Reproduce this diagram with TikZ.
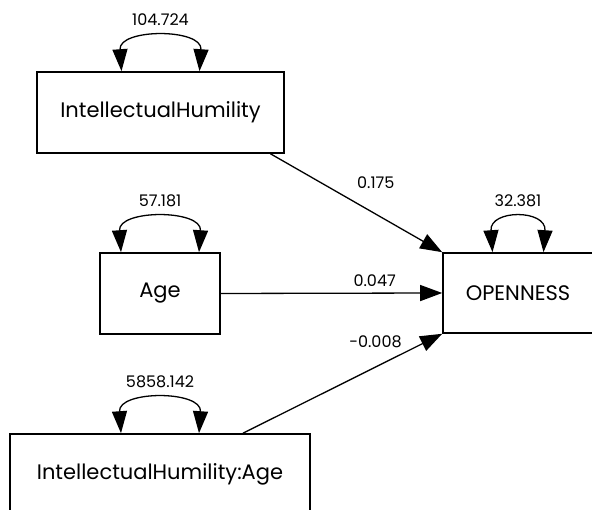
\documentclass[tikz,border=0pt]{standalone}
\usepackage{fontspec}
\setmainfont{Poppins}
\usetikzlibrary{arrows.meta}

\begin{document}
\begin{tikzpicture}[x=1pt,y=1pt,
  var/.style={draw,line width=1.6pt,font=\fontsize{21}{25}\selectfont},
  path/.style={line width=1.3pt,-{Triangle[length=22pt,width=16pt]}},
  vloop/.style={line width=1.3pt,{Triangle[length=22pt,width=15pt]}-{Triangle[length=22pt,width=15pt]}},
  est/.style={font=\fontsize{16}{19}\selectfont,inner sep=0pt}]
  \clip (0,0) rectangle (592,510);
  \node[var,minimum width=247,minimum height=81] (ih) at (160.5,397.5) {IntellectualHumility};
  \node[var,minimum width=120,minimum height=81] (age) at (160,216.5) {Age};
  \node[var,minimum width=300,minimum height=81] (iha) at (160,35.5) {IntellectualHumility:Age};
  \node[var,minimum width=150,minimum height=80] (open) at (518,217) {OPENNESS};
  \draw[path] ([xshift=110]ih.south) -- (open.north west)
    node[est,pos=0.613,yshift=31] (b1) {0.175};
  \draw[path] (age.east) -- (open.west)
    node[est,pos=0.695,yshift=12] (b2) {0.047};
  \draw[path] ([xshift=83]iha.north) -- (open.south west)
    node[est,pos=0.665,yshift=25] (b3) {-0.008};
  \draw[vloop] ([xshift=-39]ih.north) .. controls +(-3,43) and +(3,43) .. ([xshift=39]ih.north)
    node[est,pos=0.5,yshift=19] (v1) {104.724};
  \draw[vloop] ([xshift=-39]age.north) .. controls +(-3,43) and +(3,43) .. ([xshift=39]age.north)
    node[est,pos=0.5,yshift=19] (v2) {57.181};
  \draw[vloop] ([xshift=-39]iha.north) .. controls +(-3,43) and +(3,43) .. ([xshift=39]iha.north)
    node[est,pos=0.5,yshift=19] (v3) {5858.142};
  \draw[vloop] ([xshift=-25.5]open.north) .. controls +(-3,43) and +(3,43) .. ([xshift=25.5]open.north)
    node[est,pos=0.5,yshift=19] (v4) {32.381};
\end{tikzpicture}
\end{document}
